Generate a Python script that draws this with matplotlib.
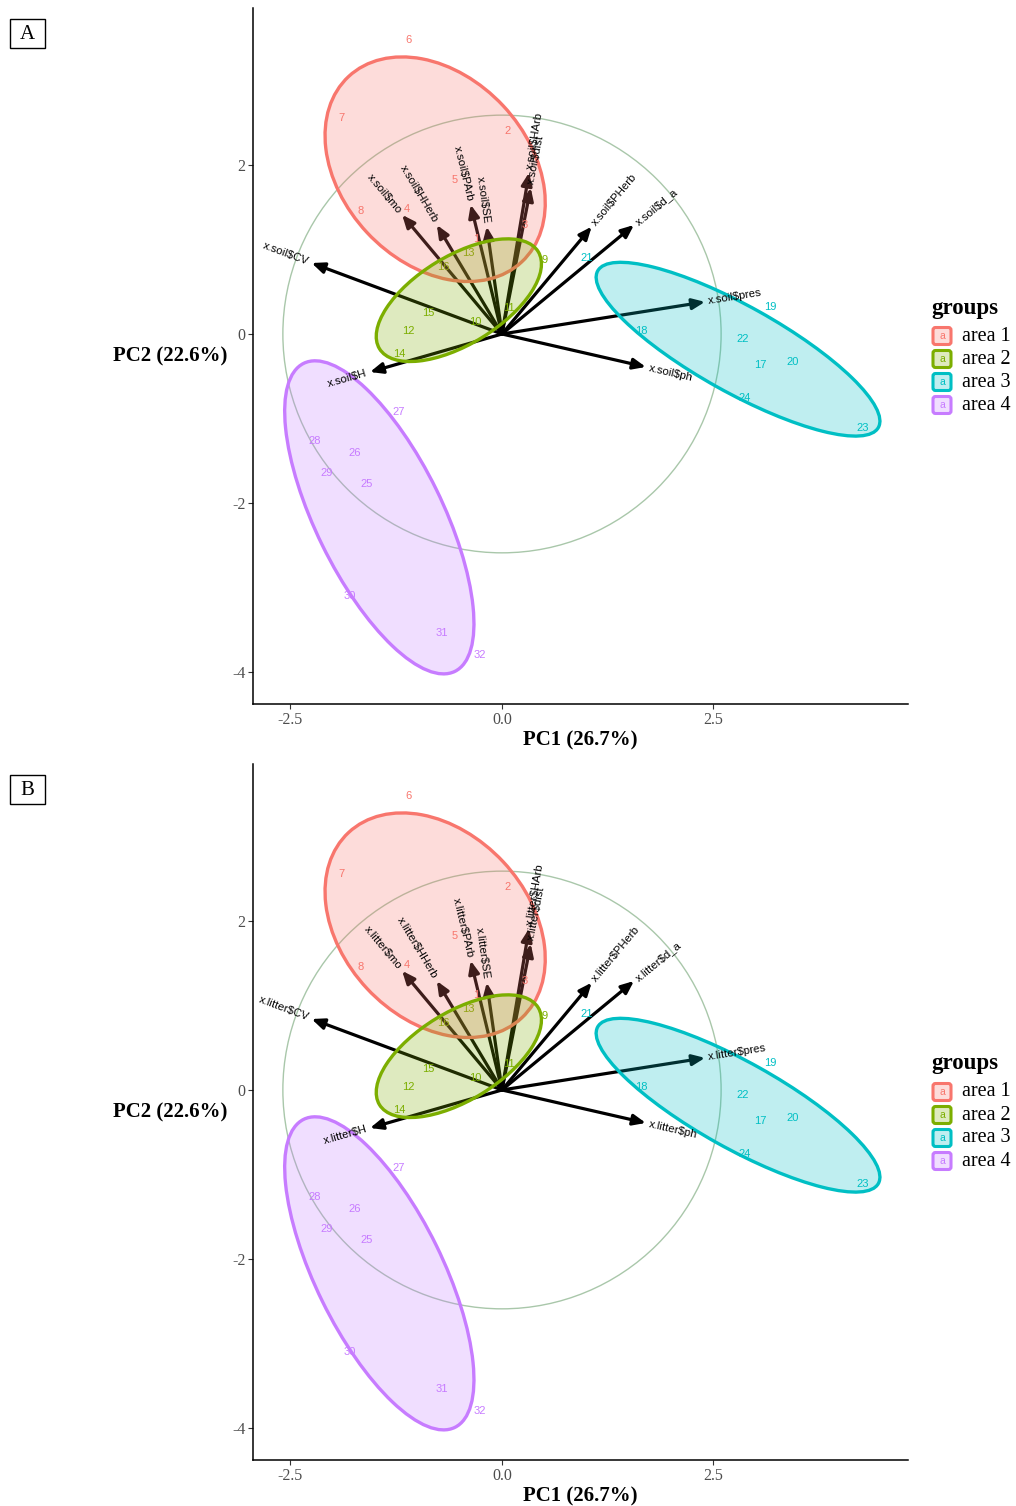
import matplotlib
matplotlib.use("Agg")
import numpy as np
import matplotlib.pyplot as plt
from matplotlib.patches import Ellipse, Circle, Rectangle, FancyBboxPatch

# sample scores (PC1, PC2)
sample_labels = ["1", "2", "3", "4", "5", "6", "7", "8",
                 "9", "10", "11", "12", "13", "14", "15", "16",
                 "17", "18", "19", "20", "21", "22", "23", "24",
                 "25", "26", "27", "28", "29", "30", "31", "32"]
pc1 = [-0.30, 0.07, 0.27, -1.12, -0.56, -1.11, -1.90, -1.67,
       0.50, -0.31, 0.08, -1.11, -0.40, -1.21, -0.87, -0.69,
       3.05, 1.65, 3.17, 3.44, 1.00, 2.84, 4.26, 2.87,
       -1.60, -1.74, -1.22, -2.21, -2.07, -1.80, -0.71, -0.26]
pc2 = [1.12, 2.40, 1.29, 1.48, 1.82, 3.48, 2.56, 1.46,
       0.88, 0.14, 0.31, 0.04, 0.96, -0.24, 0.25, 0.79,
       -0.37, 0.04, 0.32, -0.33, 0.90, -0.06, -1.11, -0.76,
       -1.78, -1.41, -0.92, -1.27, -1.64, -3.10, -3.54, -3.80]
sample_group = [0, 0, 0, 0, 0, 0, 0, 0,
                1, 1, 1, 1, 1, 1, 1, 1,
                2, 2, 2, 2, 2, 2, 2, 2,
                3, 3, 3, 3, 3, 3, 3, 3]

group_names = ["area 1", "area 2", "area 3", "area 4"]
group_colors = ["#F8766D", "#7CAE00", "#00BFC4", "#C77CFF"]

# normal-probability ellipses per group: centre, full axes, angle
ell_cx = [-0.79, -0.51, 2.79, -1.45]
ell_cy = [1.95, 0.40, -0.18, -2.17]
ell_w = [3.00, 2.20, 3.80, 4.06]
ell_h = [2.20, 1.04, 1.02, 1.50]
ell_ang = [-47.0, 31.5, -29.2, -63.9]

# variable loadings (arrow tips)
var_names = ["CV", "H", "mo", "HHerb", "PArb", "SE", "HArb", "dist",
             "PHerb", "d_a", "pres", "ph"]
load_pc1 = [-2.25, -1.56, -1.18, -0.77, -0.37, -0.18, 0.32, 0.34,
            1.06, 1.56, 2.40, 1.70]
load_pc2 = [0.84, -0.45, 1.41, 1.29, 1.53, 1.27, 1.91, 1.73,
            1.27, 1.29, 0.38, -0.39]
circle_r = 2.59

panels = [("A", "x.soil$"), ("B", "x.litter$")]

serif = "Liberation Serif"
sans = "Liberation Sans"

W, H = 1016, 1506
fig = plt.figure(figsize=(W / 100, H / 100), dpi=100)

# panel axes boxes in pixels: left, top, right, bottom
boxes = [(253, 8, 908, 704), (253, 764, 908, 1460)]


def to_rgba(hexcol, a):
    c = matplotlib.colors.to_rgb(hexcol)
    return (c[0], c[1], c[2], a)


for (tag, prefix), (l, t, r, b) in zip(panels, boxes):
    ax = fig.add_axes([l / W, 1 - b / H, (r - l) / W, (b - t) / H])
    ax.set_xlim(-2.943, 4.799)
    ax.set_ylim(-4.379, 3.858)

    ax.add_patch(Circle((0, 0), circle_r, fill=False, ec="#a9c7aa", lw=1.0, zorder=1))

    # loadings arrows
    for name, vx, vy in zip(var_names, load_pc1, load_pc2):
        ax.annotate("", xy=(vx, vy), xytext=(0, 0),
                    arrowprops=dict(arrowstyle="-|>,head_length=0.75,head_width=0.32",
                                    lw=2.3, color="black", shrinkA=0, shrinkB=0,
                                    mutation_scale=10),
                    zorder=2)

    # sample labels
    for lab, x, y, g in zip(sample_labels, pc1, pc2, sample_group):
        ax.text(x, y, lab, color=group_colors[g], fontsize=8, family=sans,
                ha="center", va="center", zorder=3)

    # group ellipses (filled, drawn over arrows)
    for i in range(len(group_names)):
        ax.add_patch(Ellipse((ell_cx[i], ell_cy[i]), ell_w[i], ell_h[i], angle=ell_ang[i],
                             facecolor=to_rgba(group_colors[i], 0.25),
                             edgecolor=group_colors[i], lw=2.4, zorder=4))

    # variable names
    for name, vx, vy in zip(var_names, load_pc1, load_pc2):
        ang = np.degrees(np.arctan(vy / vx))
        n = np.hypot(vx, vy)
        ax.annotate(prefix + name, xy=(vx, vy), xytext=(2.5 * vx / n, 2.5 * vy / n),
                    textcoords="offset points", rotation=ang, rotation_mode="anchor",
                    ha="left" if vx > 0 else "right", va="center",
                    fontsize=8.2, family=sans, color="black", zorder=6)

    for s in ["top", "right"]:
        ax.spines[s].set_visible(False)
    for s in ["left", "bottom"]:
        ax.spines[s].set_linewidth(1.1)
    ax.set_xticks([-2.5, 0.0, 2.5])
    ax.set_xticklabels(["-2.5", "0.0", "2.5"])
    ax.set_yticks([-4, -2, 0, 2])
    ax.set_yticklabels(["-4", "-2", "0", "2"])
    ax.tick_params(length=3.5, width=0.8, color="#333333", labelcolor="#4D4D4D",
                   labelsize=11.5, pad=2)
    for tl in ax.get_xticklabels() + ax.get_yticklabels():
        tl.set_family(serif)

    ax.set_xlabel("PC1 (26.7%)", family=serif, fontsize=15, fontweight="bold", va="center")
    ax.xaxis.set_label_coords(0.5, -(740 - 704) / 696)
    ax.set_ylabel("PC2 (22.6%)", family=serif, fontsize=15, fontweight="bold",
                  rotation=0, ha="right", va="center")
    ax.yaxis.set_label_coords(-(253 - 227) / 655, 0.5)

# overlay in pixel coordinates for panel tags and legends
ov = fig.add_axes([0, 0, 1, 1])
ov.set_xlim(0, W)
ov.set_ylim(H, 0)
ov.axis("off")

for (tag, prefix), (l, t, r, b) in zip(panels, boxes):
    ty = t + 25
    ov.add_patch(Rectangle((10, ty - 14), 35, 29, fill=False, ec="black", lw=1.0))
    ov.text(27.5, ty + 1, tag, family=serif, fontsize=15, ha="center", va="center")

    gy = t + 300
    ov.text(931, gy, "groups", family=serif, fontsize=16.5, fontweight="bold",
            ha="left", va="center")
    for i, gname in enumerate(group_names):
        ky = gy + 28 + 23 * i
        ov.add_patch(FancyBboxPatch((933, ky - 8.5), 18, 17,
                                    boxstyle="round,pad=0,rounding_size=2.5",
                                    facecolor=to_rgba(group_colors[i], 0.25),
                                    edgecolor=group_colors[i], lw=2.2))
        ov.text(942, ky, "a", color=group_colors[i], family=sans, fontsize=7.5,
                ha="center", va="center")
        ov.text(962, ky, gname, family=serif, fontsize=14.5, ha="left", va="center")

fig.savefig("out.png", dpi=100)
